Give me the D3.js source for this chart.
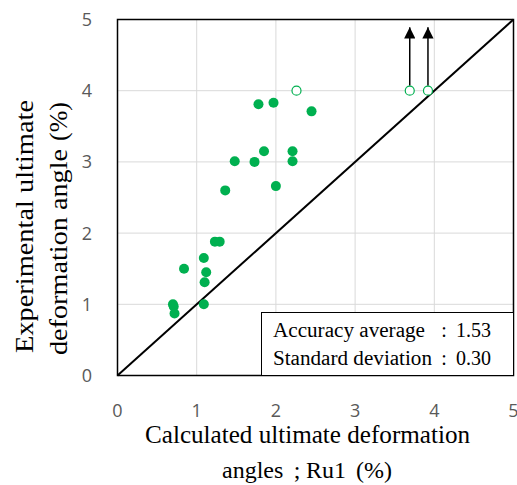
<!DOCTYPE html>
<html>
<head>
<meta charset="utf-8">
<script src="https://cdn.jsdelivr.net/npm/d3@7"></script>
<style>
body { margin: 0; background: #fff; }
</style>
</head>
<body>
<div id="chart1"></div>
<script>
// measured points (calculated, experimental)
var calcX = [1.78, 1.97, 2.45, 1.85, 2.21, 1.48, 1.73, 2.21, 2.00, 1.36, 1.23, 1.29, 1.09, 0.84, 1.12, 1.10, 0.70, 0.71, 1.09, 0.72];
var expY  = [3.81, 3.83, 3.71, 3.15, 3.15, 3.01, 3.00, 3.01, 2.66, 2.60, 1.88, 1.88, 1.65, 1.50, 1.45, 1.31, 1.00, 0.97, 1.00, 0.87];
// specimens that did not reach ultimate (open markers with arrows)
var openX = [2.26, 3.69, 3.92];
var openY = [4.00, 4.00, 4.00];
var arrowTop = 4.89;
var ticks = [0, 1, 2, 3, 4, 5];
var statLabels = ["Accuracy average", "Standard deviation"];
var statValues = ["1.53", "0.30"];

var w = 517, h = 485;
var pLeft = 117.5, pRight = 513.5, pTop = 19.5, pBottom = 375.5;

var svg = d3.select("#chart1").append("svg")
    .attr("width", w)
    .attr("height", h);

var xScale = d3.scaleLinear().domain([0, 5]).range([pLeft, pRight]);
var yScale = d3.scaleLinear().domain([0, 5]).range([pBottom, pTop]);

// grid
svg.append("g")
    .selectAll("line")
    .data(ticks.slice(1, 5))
    .enter().append("line")
    .attr("x1", function(d) { return xScale(d); })
    .attr("x2", function(d) { return xScale(d); })
    .attr("y1", pTop).attr("y2", pBottom)
    .attr("stroke", "#d9d9d9").attr("stroke-width", 1);
svg.append("g")
    .selectAll("line")
    .data(ticks.slice(1, 5))
    .enter().append("line")
    .attr("y1", function(d) { return yScale(d); })
    .attr("y2", function(d) { return yScale(d); })
    .attr("x1", pLeft).attr("x2", pRight)
    .attr("stroke", "#d9d9d9").attr("stroke-width", 1);

// frame
svg.append("rect")
    .attr("x", pLeft).attr("y", pTop)
    .attr("width", pRight - pLeft).attr("height", pBottom - pTop)
    .attr("fill", "none").attr("stroke", "black").attr("stroke-width", 1.5);

// 1:1 line
svg.append("line")
    .attr("x1", xScale(0)).attr("y1", yScale(0))
    .attr("x2", xScale(5)).attr("y2", yScale(5))
    .attr("stroke", "black").attr("stroke-width", 2);

// tick labels
svg.append("g")
    .selectAll("text")
    .data(ticks)
    .enter().append("text")
    .attr("x", function(d) { return xScale(d); })
    .attr("y", 417)
    .attr("text-anchor", "middle")
    .attr("font-family", "'Open Sans', sans-serif")
    .attr("font-size", 18)
    .attr("fill", "#595959")
    .text(function(d) { return d; });
svg.append("g")
    .selectAll("text")
    .data(ticks)
    .enter().append("text")
    .attr("x", 87)
    .attr("y", function(d) { return yScale(d) + 6.5; })
    .attr("text-anchor", "middle")
    .attr("font-family", "'Open Sans', sans-serif")
    .attr("font-size", 18)
    .attr("fill", "#595959")
    .text(function(d) { return d; });

// arrows
var defs = svg.append("defs");
defs.append("marker")
    .attr("id", "arrow")
    .attr("viewBox", "0 0 10 10")
    .attr("refX", 10).attr("refY", 5)
    .attr("markerWidth", 8).attr("markerHeight", 7.5)
    .attr("orient", "auto")
    .append("path")
    .attr("d", "M0,0L10,5L0,10Z")
    .attr("fill", "black");

svg.append("g")
    .selectAll("line")
    .data(openX.slice(1))
    .enter().append("line")
    .attr("x1", function(d) { return xScale(d); })
    .attr("x2", function(d) { return xScale(d); })
    .attr("y1", yScale(4) - 5)
    .attr("y2", yScale(arrowTop))
    .attr("stroke", "black").attr("stroke-width", 1.5)
    .attr("marker-end", "url(#arrow)");

// filled points
svg.append("g")
    .selectAll("circle")
    .data(calcX)
    .enter().append("circle")
    .attr("cx", function(d) { return xScale(d); })
    .attr("cy", function(d, i) { return yScale(expY[i]); })
    .attr("r", 5)
    .attr("fill", "#00b050");

// open points
svg.append("g")
    .selectAll("circle")
    .data(openX)
    .enter().append("circle")
    .attr("cx", function(d) { return xScale(d); })
    .attr("cy", function(d, i) { return yScale(openY[i]); })
    .attr("r", 4.5)
    .attr("fill", "white")
    .attr("stroke", "#00b050").attr("stroke-width", 1.2);

// stats box
svg.append("rect")
    .attr("x", 261.5).attr("y", 312.5)
    .attr("width", pRight - 261.5).attr("height", pBottom - 312.5)
    .attr("fill", "white").attr("stroke", "black").attr("stroke-width", 1);
var stats = svg.append("g")
    .attr("font-family", "'Liberation Serif', serif")
    .attr("font-size", 20)
    .attr("fill", "black");
var labLen = [152, 159];
stats.selectAll("text.lab")
    .data(statLabels)
    .enter().append("text")
    .attr("x", 273)
    .attr("y", function(d, i) { return 337 + i * 28; })
    .attr("textLength", function(d, i) { return labLen[i]; })
    .attr("lengthAdjust", "spacingAndGlyphs")
    .text(function(d) { return d; });
stats.selectAll("text.col")
    .data(statLabels)
    .enter().append("text")
    .attr("x", 444)
    .attr("y", function(d, i) { return 337 + i * 28; })
    .attr("text-anchor", "middle")
    .text(":");
stats.selectAll("text.val")
    .data(statValues)
    .enter().append("text")
    .attr("x", 456)
    .attr("y", function(d, i) { return 337 + i * 28; })
    .text(function(d) { return d; });

// axis titles
var serif = "'Liberation Serif', serif";
svg.append("text")
    .attr("x", 145).attr("y", 443)
    .attr("textLength", 325)
    .attr("lengthAdjust", "spacingAndGlyphs")
    .attr("font-family", serif)
    .attr("font-size", 25)
    .text("Calculated ultimate deformation");
var xt2 = svg.append("text")
    .attr("y", 478)
    .attr("font-family", serif)
    .attr("font-size", 24);
xt2.append("tspan").attr("x", 222).text("angles");
xt2.append("tspan").attr("x", 297).attr("text-anchor", "middle").text(";");
xt2.append("tspan").attr("x", 306).text("Ru1");
xt2.append("tspan").attr("x", 356).text("(%)");

var yt = svg.append("g")
    .attr("font-family", serif)
    .attr("font-size", 26);
yt.append("text")
    .attr("transform", "translate(33,353) rotate(-90)")
    .attr("textLength", 253)
    .attr("lengthAdjust", "spacingAndGlyphs")
    .text("Experimental ultimate");
var yt2 = yt.append("text")
    .attr("transform", "translate(67,355) rotate(-90)");
yt2.append("tspan").attr("x", 0)
    .attr("textLength", 206)
    .attr("lengthAdjust", "spacingAndGlyphs")
    .text("deformation angle");
yt2.append("tspan").attr("x", 214).text("(%)");
</script>
</body>
</html>
